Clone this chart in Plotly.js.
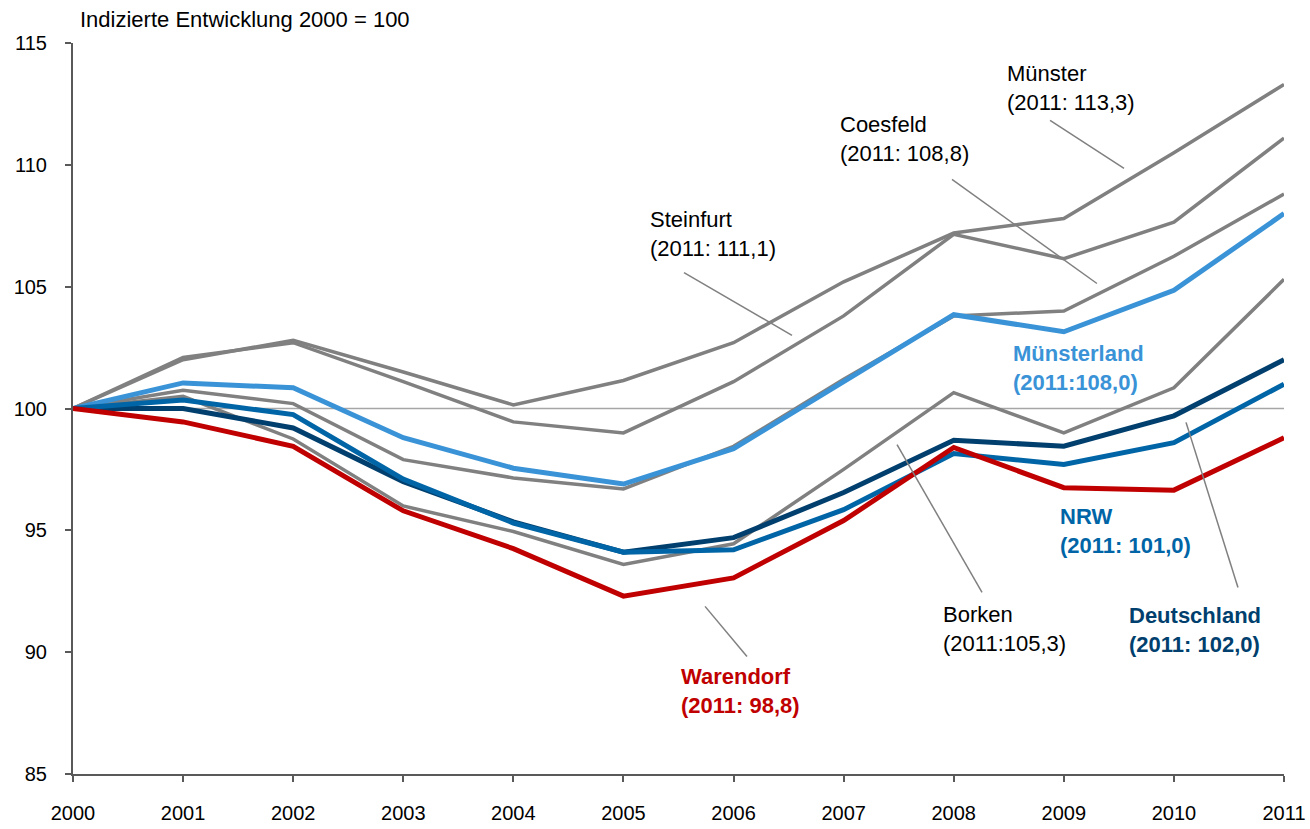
<!DOCTYPE html>
<html>
<head>
<meta charset="utf-8">
<script src="https://cdn.plot.ly/plotly-3.0.1.min.js"></script>
<style>html,body{margin:0;padding:0;background:#fff;}#chart{width:1310px;height:829px;}</style>
</head>
<body>
<div id="chart"></div>
<script>
const years = [2000,2001,2002,2003,2004,2005,2006,2007,2008,2009,2010,2011];
const muenster     = [100,102.0,102.8,101.5,100.15,101.15,102.7,105.2,107.2,107.8,110.5,113.3];
const steinfurt    = [100,102.1,102.7,101.1,99.45,99.0,101.1,103.8,107.15,106.15,107.65,111.1];
const coesfeld     = [100,100.75,100.2,97.9,97.15,96.7,98.45,101.2,103.8,104.0,106.25,108.8];
const borken       = [100,100.5,98.75,96.0,94.95,93.6,94.45,97.5,100.65,99.0,100.85,105.3];
const muensterland = [100,101.05,100.85,98.8,97.55,96.9,98.35,101.1,103.85,103.15,104.85,108.0];
const deutschland  = [100,100.0,99.2,97.0,95.35,94.1,94.7,96.55,98.7,98.45,99.7,102.0];
const nrw          = [100,100.35,99.75,97.1,95.3,94.1,94.2,95.85,98.15,97.7,98.6,101.0];
const warendorf    = [100,99.45,98.45,95.8,94.25,92.3,93.05,95.4,98.4,96.75,96.65,98.8];
const yTicks = [85,90,95,100,105,110,115];

const FONT = 'Liberation Sans, Arial, sans-serif';
const GRAY = '#808080';

function tr(y, color, width){
  return {x: years, y: y, type:'scatter', mode:'lines', line:{color:color, width:width}, hoverinfo:'skip'};
}
const data = [
  tr(muenster, GRAY, 3.5),
  tr(steinfurt, GRAY, 3.5),
  tr(coesfeld, GRAY, 3.5),
  tr(borken, GRAY, 3.5),
  tr(muensterland, '#3A93D7', 5),
  tr(deutschland, '#003F6E', 5),
  tr(nrw, '#0065A6', 5),
  tr(warendorf, '#C00000', 5)
];

const labels = [
  {text:'Münster<br>(2011: 113,3)', x:2008.47, y:113.17, color:'#000', bold:false},
  {text:'Coesfeld<br>(2011: 108,8)', x:2006.95, y:111.04, color:'#000', bold:false},
  {text:'Steinfurt<br>(2011: 111,1)', x:2005.22, y:107.16, color:'#000', bold:false},
  {text:'Münsterland<br>(2011:108,0)', x:2008.52, y:101.66, color:'#3A93D7', bold:true},
  {text:'NRW<br>(2011: 101,0)', x:2008.95, y:94.99, color:'#0065A6', bold:true},
  {text:'Borken<br>(2011:105,3)', x:2007.88, y:90.97, color:'#000', bold:false},
  {text:'Deutschland<br>(2011: 102,0)', x:2009.57, y:90.93, color:'#003F6E', bold:true},
  {text:'Warendorf<br>(2011: 98,8)', x:2005.5, y:88.41, color:'#C00000', bold:true}
];
const leaders = [
  [2008.875,111.82,2009.547,109.85],
  [2007.984,109.40,2009.301,105.13],
  [2005.550,105.58,2006.531,103.00],
  [2007.485,98.52,2008.257,92.45],
  [2010.110,99.43,2010.582,92.65],
  [2005.741,91.88,2006.122,89.82]
];

const annotations = labels.map(l => ({
  text: l.bold ? '<b>'+l.text+'</b>' : l.text,
  x:l.x, y:l.y, xref:'x', yref:'y', xanchor:'left', yanchor:'middle', align:'left',
  showarrow:false, font:{family:FONT, size:22, color:l.color}
}));

const shapes = [
  {type:'line', xref:'paper', yref:'y', x0:0, x1:1, y0:100, y1:100, line:{color:'#A6A6A6', width:1.5}, layer:'below'}
].concat(leaders.map(p => ({type:'line', xref:'x', yref:'y', x0:p[0], y0:p[1], x1:p[2], y1:p[3], line:{color:GRAY, width:1.5}})));

const layout = {
  width:1310, height:829,
  margin:{l:73, r:26, t:43, b:55, pad:0},
  paper_bgcolor:'#fff', plot_bgcolor:'#fff',
  showlegend:false,
  font:{family:FONT, size:20, color:'#000'},
  title:{text:'Indizierte Entwicklung 2000 = 100', xref:'container', yref:'container', x:80/1310, xanchor:'left', y:1-19/829, yanchor:'middle', font:{family:FONT, size:22, color:'#000'}},
  xaxis:{range:[2000,2011], tickvals:years, ticktext:years.map(String), showgrid:false, zeroline:false,
    showline:true, linecolor:'#595959', linewidth:2, ticks:'outside', ticklen:6, tickwidth:2, tickcolor:'#595959',
    ticklabelstandoff:14, tickfont:{family:FONT, size:20, color:'#000'}, fixedrange:true},
  yaxis:{range:[85,115], tickvals:yTicks, ticktext:yTicks.map(String), showgrid:false, zeroline:false,
    showline:true, linecolor:'#595959', linewidth:2, ticks:'outside', ticklen:6, tickwidth:2, tickcolor:'#595959',
    ticklabelstandoff:14, tickfont:{family:FONT, size:20, color:'#000'}, fixedrange:true},
  annotations: annotations,
  shapes: shapes
};
Plotly.newPlot('chart', data, layout, {displayModeBar:false, staticPlot:true});
</script>
</body>
</html>
